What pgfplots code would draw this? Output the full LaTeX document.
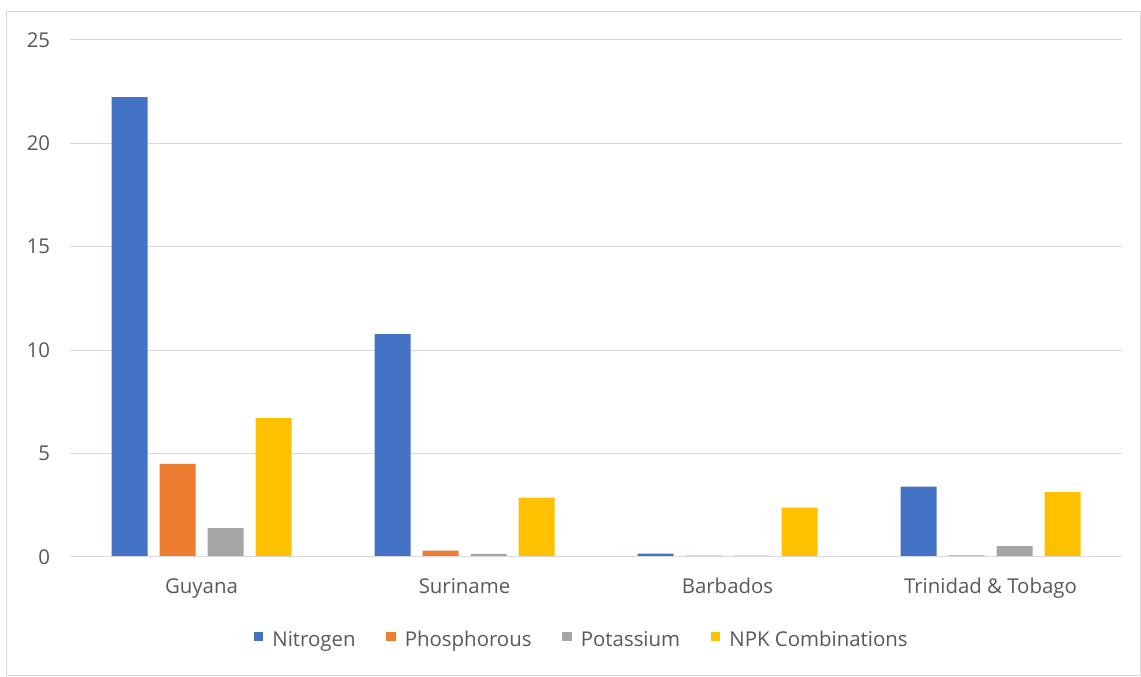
\documentclass[border=0pt]{standalone}
\usepackage{pgfplots}
\pgfplotsset{compat=1.18}
\usetikzlibrary{calc}
\usepackage{fontspec}
\setmainfont{Open Sans}
\definecolor{cN}{HTML}{4472C4}
\definecolor{cP}{HTML}{ED7D31}
\definecolor{cK}{HTML}{A5A5A5}
\definecolor{cC}{HTML}{FFC000}
\definecolor{txt}{HTML}{595959}
\definecolor{grd}{HTML}{D9D9D9}
\begin{document}
\begin{tikzpicture}
\begin{axis}[
  name=ax,
  scale only axis,
  width=789pt, height=387.75pt,
  xmin=-0.5, xmax=3.5, ymin=0, ymax=25,
  ytick={0,5,10,15,20,25},
  xtick={0,1,2,3},
  xticklabels={Guyana,Suriname,Barbados,Trinidad \& Tobago},
  ybar=9pt, bar width=27pt,
  axis line style={draw=none},
  major tick length=0pt,
  ymajorgrids, grid style={grd, line width=0.75pt},
  tick label style={font=\fontsize{15.3}{18}\selectfont, text=txt},
  /pgf/number format/assume math mode=true,
  yticklabel style={xshift=-11.4pt},
  xticklabel style={yshift=-12.5pt},
  legend style={at={(0.4867,-0.1605)}, anchor=center, draw=none,
    font=\fontsize{15.3}{18}\selectfont, text=txt, legend columns=-1,
    /tikz/every even column/.append style={column sep=21pt}},
  legend image code/.code={\fill[#1] (0pt,-1pt) rectangle (7pt,6pt); \path (12pt,2pt);},
]
\addplot[fill=cN, draw=none] coordinates {(0,22.24) (1,10.78) (2,0.16) (3,3.40)};
\addplot[fill=cP, draw=none] coordinates {(0,4.50) (1,0.31) (2,0.07) (3,0.08)};
\addplot[fill=cK, draw=none] coordinates {(0,1.40) (1,0.15) (2,0.07) (3,0.53)};
\addplot[fill=cC, draw=none] coordinates {(0,6.72) (1,2.87) (2,2.39) (3,3.14)};
\legend{Nitrogen,Phosphorous,Potassium,NPK Combinations}
\draw[grd, line width=0.75pt] (rel axis cs:0,0) -- (rel axis cs:1,0);
\end{axis}
\useasboundingbox ($(ax.south west)+(-52.5pt,-90pt)$) rectangle ($(ax.north east)+(14.25pt,30pt)$);
\draw[grd, line width=0.75pt] ($(ax.south west)+(-47.25pt,-89pt)$) rectangle ($(ax.north east)+(13.5pt,21pt)$);
\end{tikzpicture}
\end{document}
